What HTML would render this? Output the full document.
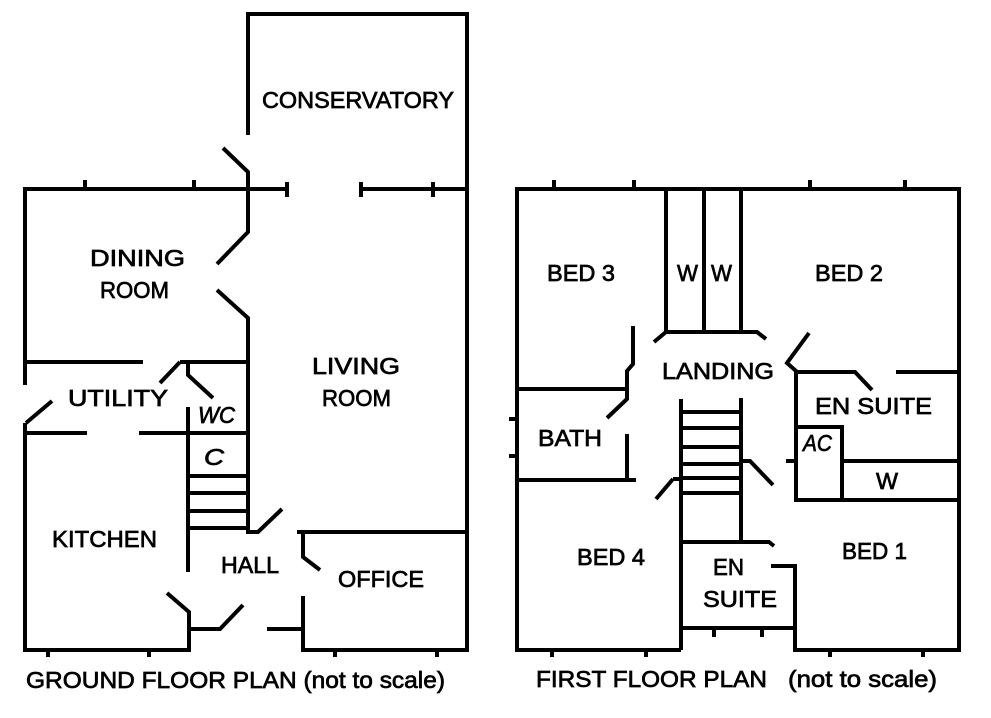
<!DOCTYPE html>
<html><head><meta charset="utf-8"><style>
html,body{margin:0;padding:0;background:#fff;}
svg{display:block;}
text{font-family:"Liberation Sans",sans-serif;font-size:23px;fill:#000;stroke:#000;stroke-width:0.7;}
</style></head><body>
<svg width="991" height="718" viewBox="0 0 991 718" xmlns="http://www.w3.org/2000/svg">
<rect width="991" height="718" fill="#fff"/>
<g fill="none" stroke="#000" stroke-width="4" stroke-linejoin="miter" stroke-linecap="butt">
<!-- GROUND FLOOR -->
<path d="M248,135 V14 H467 V650 H303 V596"/>
<path d="M287,189 H25 V385"/>
<path d="M287,182 V197 M361,182 V197 M361,189 H467 M433,182 V197 M85,180 V189 M194,180 V189"/>
<path d="M223,148 L248,172 V232 L217,264"/>
<path d="M217,290 L248,318 V532 H258 L282,509"/>
<path d="M25,362 H143 M180,362 H248 M180,362 L160,383"/>
<path d="M188,362 V375 L213,398"/>
<path d="M52,401 L26,423"/>
<path d="M25,423 V650 H189 V612 L167,593"/>
<path d="M25,433 H87 M139,433 H248"/>
<path d="M188,407 V572"/>
<path d="M188,476 H248 M188,493 H248 M188,511 H248 M188,528 H248"/>
<path d="M188,629 H220 L243,605"/>
<path d="M267,629 H303"/>
<path d="M297,532 H467 M303,532 V557 L320,570"/>
<path d="M48,650 V657 M149,650 V657 M335,650 V657 M437,650 V657"/>
<!-- FIRST FLOOR -->
<path d="M681,650 H517 V189 H959 V650 H795 V566 H771"/>
<path d="M554,180 V189 M634,180 V189 M810,180 V189 M905,180 V189"/>
<path d="M666,189 V332 M704,189 V332 M741,189 V332 M654,342 L666,332 H757 L766,339"/>
<path d="M633,326 V364 L627,371 V399 L607,418"/>
<path d="M517,389 H628"/>
<path d="M509,419 H517 M509,456 H517"/>
<path d="M627,434 V480 M517,480 H636"/>
<path d="M809,333 L787,363 L796,371 V500 H959"/>
<path d="M796,372 H855 L872,390 M896,372 H959"/>
<path d="M796,427 H842 V500 M786,461 H796 M842,461 H959"/>
<path d="M681,399 V650 M741,398 V542"/>
<path d="M681,412 H741 M681,428 H741 M681,447 H741 M681,464 H741 M681,478 H741 M681,493 H741"/>
<path d="M673,479 H681 M673,479 L656,499"/>
<path d="M741,461 H750 L773,485"/>
<path d="M681,542 H769 L774,546"/>
<path d="M681,628 H795 M714,628 V637 M762,628 V637"/>
<path d="M552,650 V657 M646,650 V657 M830,650 V657 M923,650 V657"/>
</g>
<!-- Ground labels -->
<text x="262" y="108" textLength="192" lengthAdjust="spacingAndGlyphs">CONSERVATORY</text>
<text x="90" y="266" textLength="95" lengthAdjust="spacingAndGlyphs">DINING</text>
<text x="100" y="298" textLength="69" lengthAdjust="spacingAndGlyphs">ROOM</text>
<text x="68" y="406" textLength="100" lengthAdjust="spacingAndGlyphs">UTILITY</text>
<text x="198" y="423" textLength="37" lengthAdjust="spacingAndGlyphs" font-style="italic">WC</text>
<text x="312" y="374" textLength="88" lengthAdjust="spacingAndGlyphs">LIVING</text>
<text x="322" y="406" textLength="69" lengthAdjust="spacingAndGlyphs">ROOM</text>
<text x="204" y="465" textLength="20" lengthAdjust="spacingAndGlyphs" font-style="italic">C</text>
<text x="52" y="547" textLength="105" lengthAdjust="spacingAndGlyphs">KITCHEN</text>
<text x="221" y="573" textLength="58" lengthAdjust="spacingAndGlyphs">HALL</text>
<text x="338" y="587" textLength="86" lengthAdjust="spacingAndGlyphs">OFFICE</text>
<text x="26" y="688" textLength="419" lengthAdjust="spacingAndGlyphs">GROUND FLOOR PLAN (not to scale)</text>
<!-- First labels -->
<text x="547" y="281" textLength="68" lengthAdjust="spacingAndGlyphs">BED 3</text>
<text x="677" y="281" textLength="21" lengthAdjust="spacingAndGlyphs">W</text>
<text x="711" y="281" textLength="21" lengthAdjust="spacingAndGlyphs">W</text>
<text x="815" y="281" textLength="68" lengthAdjust="spacingAndGlyphs">BED 2</text>
<text x="662" y="379" textLength="112" lengthAdjust="spacingAndGlyphs">LANDING</text>
<text x="538" y="446" textLength="64" lengthAdjust="spacingAndGlyphs">BATH</text>
<text x="815" y="414" textLength="117" lengthAdjust="spacingAndGlyphs">EN SUITE</text>
<text x="803" y="451" textLength="29" lengthAdjust="spacingAndGlyphs" font-style="italic">AC</text>
<text x="876" y="489" textLength="22" lengthAdjust="spacingAndGlyphs">W</text>
<text x="577" y="565" textLength="68" lengthAdjust="spacingAndGlyphs">BED 4</text>
<text x="842" y="559" textLength="65" lengthAdjust="spacingAndGlyphs">BED 1</text>
<text x="713" y="575" textLength="31" lengthAdjust="spacingAndGlyphs">EN</text>
<text x="703" y="607" textLength="74" lengthAdjust="spacingAndGlyphs">SUITE</text>
<text x="536" y="687" textLength="231" lengthAdjust="spacingAndGlyphs">FIRST FLOOR PLAN</text>
<text x="788" y="687" textLength="149" lengthAdjust="spacingAndGlyphs">(not to scale)</text>
</svg>
</body></html>
